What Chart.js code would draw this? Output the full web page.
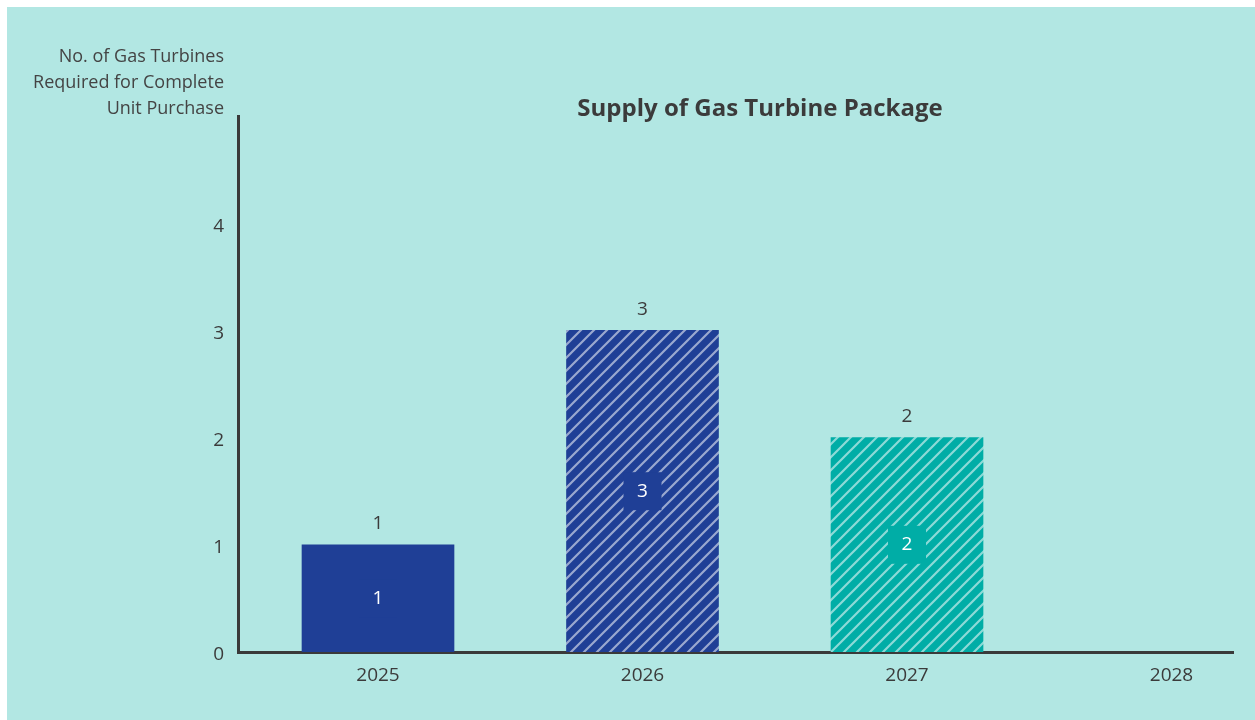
<!DOCTYPE html>
<html lang="en">
<head>
<meta charset="utf-8">
<title>Supply of Gas Turbine Package</title>
<script src="https://cdn.jsdelivr.net/npm/chart.js@4.4.0/dist/chart.umd.min.js"></script>
<style>
body {
  margin: 0;
  background: #ffffff;
  font-family: "Open Sans", Helvetica, Arial, sans-serif;
}
.chart-box {
  position: absolute;
  left: 7px;
  top: 7px;
  width: 1248px;
  height: 713px;
  background: #b2e7e3;
}
</style>
</head>
<body>
<div class="chart-box">
  <canvas id="bar-chart" width="1248" height="713"></canvas>
</div>

<script>
/* Data */
const years = [2025, 2026, 2027, 2028];
const turbines = [1, 3, 2, null];
const yTicks = [0, 1, 2, 3, 4];
const chartTitle = 'Supply of Gas Turbine Package';
const yTitleLines = ['No. of Gas Turbines', 'Required for Complete', 'Unit Purchase'];

/* Styles */
const BLUE = '#1f3f96';
const TEAL = '#00ada6';
const TEXT = '#3b3b3b';
const AXIS = '#3a3a3a';
const FONT = '"Open Sans", Helvetica, Arial, sans-serif';

function hatch(color) {
  const s = 13;
  const c = document.createElement('canvas');
  c.width = s; c.height = s;
  const g = c.getContext('2d');
  g.fillStyle = color;
  g.fillRect(0, 0, s, s);
  g.strokeStyle = 'rgba(255,255,255,0.55)';
  g.lineWidth = 2.2;
  g.beginPath();
  g.moveTo(-2, s + 2); g.lineTo(s + 2, -2);
  g.moveTo(-2, 2); g.lineTo(2, -2);
  g.moveTo(s - 2, s + 2); g.lineTo(s + 2, s - 2);
  g.stroke();
  return g.createPattern(c, 'repeat');
}

const baseColors = [BLUE, BLUE, TEAL, TEAL];
const fills = [BLUE, hatch(BLUE), hatch(TEAL), hatch(TEAL)];

/* titles and bar labels */
const textPlugin = {
  id: 'textPlugin',
  afterDatasetsDraw(chart) {
    const ctx = chart.ctx;
    ctx.save();
    ctx.fillStyle = TEXT;
    ctx.textAlign = 'center';
    ctx.textBaseline = 'middle';
    ctx.font = 'bold 24px ' + FONT;
    ctx.fillText(chartTitle, 753, 102);

    ctx.font = '18px ' + FONT;
    ctx.fillStyle = '#444444';
    ctx.textAlign = 'right';
    yTitleLines.forEach((line, i) => ctx.fillText(line, 217, 50 + i * 26));

    const meta = chart.getDatasetMeta(0);
    ctx.textAlign = 'center';
    meta.data.forEach((bar, i) => {
      const v = turbines[i];
      if (v === null) return;
      const mid = (bar.y + bar.base) / 2;
      ctx.fillStyle = baseColors[i];
      ctx.fillRect(bar.x - 19, mid - 19, 38, 38);
      ctx.fillStyle = '#ffffff';
      ctx.font = '19px ' + FONT;
      ctx.fillText(String(v), bar.x, mid);
      ctx.fillStyle = TEXT;
      ctx.fillText(String(v), bar.x, bar.y - 21);
    });
    ctx.restore();
  }
};

const ctx = document.getElementById('bar-chart');
new Chart(ctx, {
  type: 'bar',
  data: {
    datasets: [{
      data: years.map((y, i) => ({ x: y, y: turbines[i] })),
      backgroundColor: fills,
      borderWidth: 0,
      barThickness: 152
    }]
  },
  options: {
    responsive: false,
    animation: false,
    layout: { padding: { top: 109, right: 22, left: 0, bottom: 0 } },
    plugins: {
      legend: { display: false },
      tooltip: { enabled: false }
    },
    scales: {
      x: {
        type: 'linear',
        offset: false,
        min: 2024.4707,
        max: 2028.2325,
        afterBuildTicks: (scale) => { scale.ticks = years.map(v => ({ value: v })); },
        afterFit: (scale) => { scale.height = 68; },
        grid: { display: false, drawTicks: false },
        border: { display: true, color: AXIS, width: 3 },
        ticks: {
          color: TEXT,
          padding: 12,
          font: { family: FONT, size: 19 },
          callback: (v) => String(v)
        }
      },
      y: {
        min: 0,
        max: 5,
        afterBuildTicks: (scale) => { scale.ticks = yTicks.map(v => ({ value: v })); },
        afterFit: (scale) => { scale.width = 231; },
        grid: { display: false, drawTicks: false },
        border: { display: true, color: AXIS, width: 3 },
        ticks: {
          color: TEXT,
          padding: 14,
          labelOffset: 3,
          font: { family: FONT, size: 19 },
          callback: (v) => String(v)
        }
      }
    }
  },
  plugins: [textPlugin]
});
</script>
</body>
</html>
